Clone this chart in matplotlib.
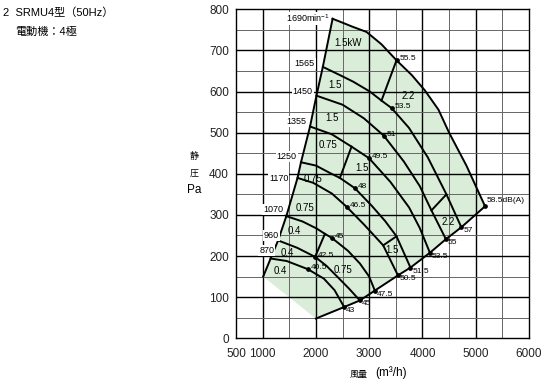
import matplotlib
matplotlib.use('Agg')
import matplotlib.pyplot as plt

plt.rcParams['font.family'] = ['Liberation Sans', 'Noto Sans CJK JP']
plt.rcParams['mathtext.default'] = 'regular'

# ---- data (air volume m3/h, static pressure Pa) ----
q1690 = [2313, 2450, 2700, 2950, 3230, 3513, 3800, 4044, 4300, 4500, 4825, 5175]
p1690 = [777, 770, 757, 745, 715, 676, 640, 603, 556, 500, 420, 321]
q1565 = [2130, 2450, 2700, 3013, 3231, 3419, 3745, 4100, 4450, 4730]
p1565 = [660, 640, 624, 600, 578, 560, 512, 440, 350, 270]
q1450 = [2010, 2500, 2900, 3272, 3650, 3950, 4169, 4440]
p1450 = [590, 568, 535, 493, 430, 370, 311, 241]
q1355 = [1890, 2300, 2669, 2997, 3400, 3750, 3950, 4140]
p1355 = [515, 496, 466, 438, 380, 318, 268, 208]
q1250 = [1720, 2000, 2263, 2450, 2731, 3050, 3300, 3513, 3775]
p1250 = [428, 420, 402, 390, 365, 322, 285, 248, 172]
q1170 = [1655, 1950, 2300, 2575, 2900, 3263, 3540]
p1170 = [390, 378, 352, 320, 277, 226, 153]
q1070 = [1445, 1750, 2013, 2169, 2300, 2600, 2825, 3000, 3106]
p1070 = [297, 284, 267, 254, 244, 213, 182, 150, 116]
q960 = [1290, 1650, 1985, 2200, 2400, 2620, 2825]
p960 = [238, 220, 198, 176, 150, 121, 92]
q870 = [1150, 1450, 1850, 2150, 2350, 2530]
p870 = [194, 188, 168, 145, 117, 76]

rpm_curves = [(q870, p870), (q960, p960), (q1070, p1070), (q1170, p1170),
              (q1250, p1250), (q1355, p1355), (q1450, p1450), (q1565, p1565),
              (q1690, p1690)]

# lower-left corner of the operating range
corner_q = 1010
corner_p = 150
# lower boundary (system line) and its dB points
bottom_q = [2000, 2530, 2825, 3106, 3540, 3775, 4140, 4440, 4730, 5175]
bottom_p = [48, 76, 92, 116, 153, 172, 208, 241, 270, 321]
bottom_db = ['', '43', '45', '47.5', '50.5', '51.5', '53.5', '55', '57', '58.5dB(A)']

# dB points on the curves
mid_q = [3513, 3419, 3272, 2997, 2731, 2575, 2300, 1985, 1850]
mid_p = [676, 560, 493, 438, 365, 320, 244, 198, 168]
mid_db = ['55.5', '53.5', '51', '49.5', '48', '46.5', '45', '42.5', '40.5']

# motor power borders
pw_q1 = [3513, 2669, 4169, 3263, 1985]
pw_p1 = [676, 466, 311, 226, 198]
pw_q2 = [3231, 2450, 4450, 3513, 2169]
pw_p2 = [578, 390, 350, 248, 254]

# motor power labels
kw_text = ['1.5kW', '1.5', '2.2', '1.5', '0.75', '1.5', '0.75', '0.75',
           '0.4', '0.4', '0.4', '0.75', '1.5', '2.2']
kw_q = [2606, 2356, 3731, 2310, 2231, 2856, 1950, 1794, 1588, 1463, 1325, 2513, 3419, 4481]
kw_p = [717, 615, 588, 536, 469, 415, 387, 318, 261, 208, 164, 167, 214, 283]

# rpm labels
rpm_text = ['1690min$^{-1}$', '1565', '1450', '1355', '1250', '1170', '1070', '960', '870']
rpm_q = [2250, 1981, 1938, 1813, 1638, 1481, 1388, 1169, 1080]
rpm_p = [778, 669, 601, 528, 443, 388, 313, 250, 213]

xticks = [500, 1000, 2000, 3000, 4000, 5000, 6000]
yticks = [0, 100, 200, 300, 400, 500, 600, 700, 800]

# ---- figure ----
W, H = 550, 389
fig = plt.figure(figsize=(W / 100, H / 100), dpi=100)
ax = fig.add_axes([236 / W, 1 - 338.3 / H, (529 - 236) / W, (338.3 - 9.3) / H])
ax.set_xlim(500, 6000)
ax.set_ylim(0, 800)

# grid
for x in range(1000, 6000, 500):
    major = (x % 1000 == 0)
    ax.axvline(x, color='#000000' if major else '#666666', lw=1.0 if major else 0.7, zorder=1)
for y in range(50, 800, 50):
    major = (y % 100 == 0)
    ax.axhline(y, color='#000000' if major else '#666666', lw=1.0 if major else 0.7, zorder=1)
for s in ax.spines.values():
    s.set_linewidth(1.0)
    s.set_color('black')

# shaded operating range
left_q = [c[0][0] for c in rpm_curves]
left_p = [c[1][0] for c in rpm_curves]
poly_q = [corner_q] + bottom_q + q1690[::-1] + left_q[::-1]
poly_p = [corner_p] + bottom_p + p1690[::-1] + left_p[::-1]
ax.fill(poly_q, poly_p, color='#d9edd9', lw=0, zorder=0.5)

lw = 1.4
ax.plot([corner_q] + left_q, [corner_p] + left_p, color='black', lw=lw, zorder=3,
        solid_joinstyle='miter')
ax.plot(bottom_q, bottom_p, color='black', lw=lw, zorder=3)
for q, p in rpm_curves:
    ax.plot(q, p, color='black', lw=lw, zorder=3)
for a, b, c, d in zip(pw_q1, pw_p1, pw_q2, pw_p2):
    ax.plot([a, c], [b, d], color='black', lw=lw, zorder=3)

# dB points
ax.plot(mid_q, mid_p, 'o', color='black', ms=2.4, zorder=4)
ax.plot(bottom_q[1:], bottom_p[1:], 'o', color='black', ms=2.4, zorder=4)
for q, p, t in zip(mid_q, mid_p, mid_db):
    ax.annotate(t, (q, p), xytext=(2, 1), textcoords='offset points',
                ha='left', va='center', fontsize=6, zorder=5)
for q, p, t in zip(bottom_q[1:], bottom_p[1:], bottom_db[1:]):
    off = (1.5, 4) if 'dB' in t else (1.5, -2.5)
    ax.annotate(t, (q, p), xytext=off, textcoords='offset points',
                ha='left', va='center', fontsize=6, zorder=5)

for t, q, p in zip(kw_text, kw_q, kw_p):
    ax.text(q, p, t, ha='center', va='center', fontsize=7, zorder=5)

for i, (t, q, p) in enumerate(zip(rpm_text, rpm_q, rpm_p)):
    ha = 'center' if t in ('960', '870') else 'right'
    ax.text(q, p, t, ha=ha, va='center', fontsize=6.5, zorder=5,
            bbox=dict(boxstyle='square,pad=0.1', fc='white', ec='none'))

ax.set_xticks(xticks)
ax.set_yticks(yticks)
ax.set_xticklabels([str(v) for v in xticks])
ax.set_yticklabels([str(v) for v in yticks])
ax.tick_params(length=0, labelsize=8.5, colors='#222222')
ax.tick_params(axis='x', pad=7)
ax.tick_params(axis='y', pad=5)

# titles and axis labels
fig.text(3 / W, 1 - 13 / H, '2  SRMU4型（50Hz）', fontsize=8, va='center', ha='left')
fig.text(15 / W, 1 - 32 / H, '電動機：4極', fontsize=8, va='center', ha='left')
fig.text(194 / W, 1 - 156 / H, '静', fontsize=6.5, va='center', ha='center')
fig.text(194 / W, 1 - 173 / H, '圧', fontsize=6.5, va='center', ha='center')
fig.text(194 / W, 1 - 190 / H, 'Pa', fontsize=8.5, va='center', ha='center')
fig.text(359 / W, 1 - 374 / H, '風量', fontsize=6.5, va='center', ha='center')
fig.text(391 / W, 1 - 373 / H, '(m³/h)', fontsize=8.5, va='center', ha='center')

fig.savefig('out.png', dpi=100)
